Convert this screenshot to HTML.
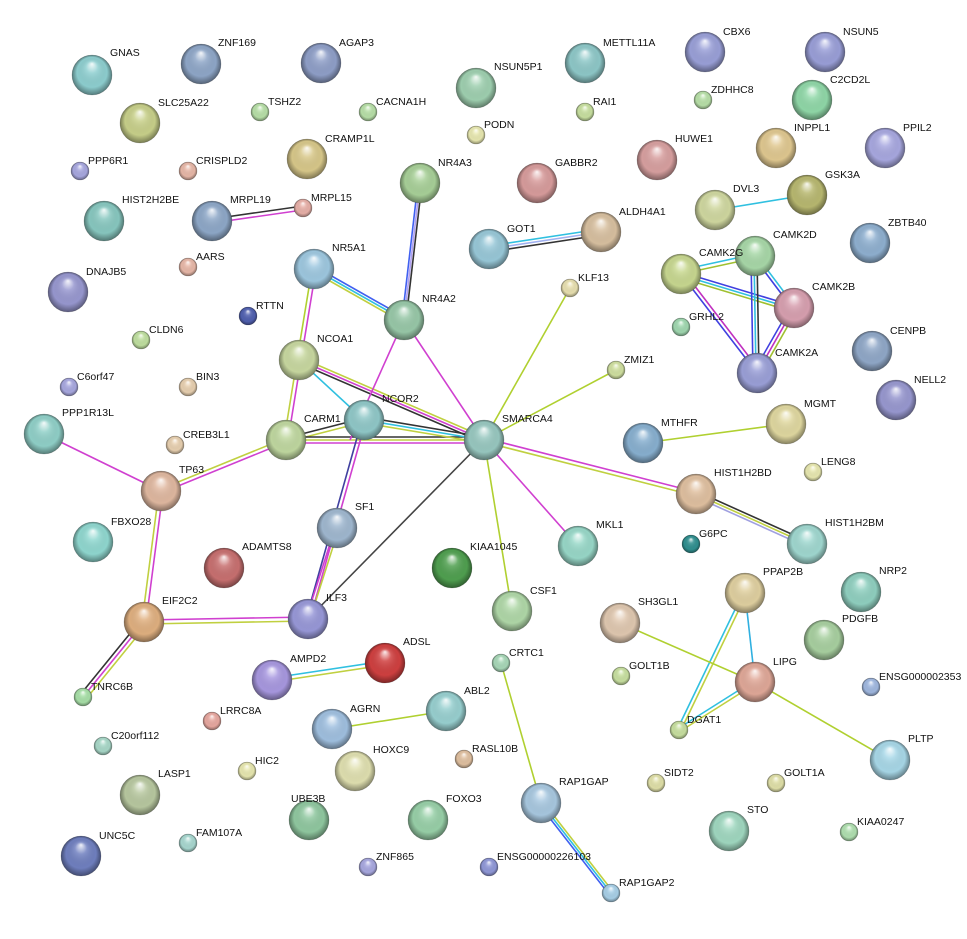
<!DOCTYPE html>
<html><head><meta charset="utf-8"><style>
html,body{margin:0;padding:0;background:#fff;}
svg{display:block;}
text{font-family:"Liberation Sans",sans-serif;font-size:10.5px;fill:#111;}
</style></head><body>
<svg width="967" height="939" viewBox="0 0 967 939" xmlns="http://www.w3.org/2000/svg">
<defs>
<radialGradient id="s" cx="0.5" cy="0.5" r="0.5" fx="0.5" fy="0.22">
<stop offset="0" stop-color="#fff" stop-opacity="0.9"/>
<stop offset="0.3" stop-color="#fff" stop-opacity="0.15"/>
<stop offset="0.75" stop-color="#000" stop-opacity="0.02"/>
<stop offset="1" stop-color="#000" stop-opacity="0.4"/>
</radialGradient>
</defs>
<g fill="none" stroke-width="1.6">
<!-- MRPL19-MRPL15 -->
<line x1="212" y1="219" x2="303" y2="206" stroke="#333"/><line x1="212" y1="223" x2="303" y2="210" stroke="#d040d0"/>
<!-- NR4A3-NR4A2 -->
<line x1="418" y1="183" x2="402" y2="320" stroke="#4060f0"/><line x1="420" y1="183" x2="404" y2="320" stroke="#b0a0f0"/><line x1="422" y1="183" x2="406" y2="320" stroke="#333"/>
<!-- GOT1-ALDH4A1 -->
<line x1="489" y1="246" x2="601" y2="229" stroke="#30c0e0"/><line x1="489" y1="249" x2="601" y2="232" stroke="#a0b0f0"/><line x1="489" y1="252" x2="601" y2="235" stroke="#333"/>
<!-- DVL3-GSK3A -->
<line x1="715" y1="210" x2="807" y2="195" stroke="#30c0e0"/>
<!-- CAMK2 cluster -->
<line x1="681" y1="272" x2="794" y2="306" stroke="#4040e0"/><line x1="681" y1="275" x2="794" y2="309" stroke="#30c0e0"/><line x1="681" y1="278" x2="794" y2="312" stroke="#a0c030"/>
<line x1="681" y1="270" x2="755" y2="254" stroke="#30c0e0"/><line x1="681" y1="274" x2="755" y2="258" stroke="#a0c030"/>
<line x1="751" y1="256" x2="753" y2="373" stroke="#4040e0"/><line x1="754" y1="256" x2="756" y2="373" stroke="#30c0e0"/><line x1="757" y1="256" x2="759" y2="373" stroke="#333"/>
<line x1="753" y1="256" x2="792" y2="308" stroke="#4040e0"/><line x1="757" y1="256" x2="796" y2="308" stroke="#30c0e0"/>
<line x1="790" y1="308" x2="753" y2="373" stroke="#4040e0"/><line x1="794" y1="308" x2="757" y2="373" stroke="#c030c0"/><line x1="798" y1="308" x2="761" y2="373" stroke="#a0c030"/>
<line x1="681" y1="274" x2="757" y2="373" stroke="#4040e0"/><line x1="684" y1="272" x2="760" y2="371" stroke="#c030c0"/>
<!-- NR5A1-NR4A2 -->
<line x1="314" y1="266" x2="404" y2="317" stroke="#4060f0"/><line x1="314" y1="269" x2="404" y2="320" stroke="#30c0e0"/><line x1="314" y1="272" x2="404" y2="323" stroke="#c0d040"/>
<!-- NR5A1-NCOA1 -->
<line x1="312" y1="269" x2="297" y2="360" stroke="#b0d030"/><line x1="316" y1="269" x2="301" y2="360" stroke="#d040d0"/>
<!-- NCOA1-CARM1 -->
<line x1="297" y1="360" x2="284" y2="440" stroke="#c0d040"/><line x1="301" y1="360" x2="288" y2="440" stroke="#d040d0"/>
<line x1="299" y1="360" x2="364" y2="420" stroke="#30c0e0"/>
<line x1="299" y1="357" x2="484" y2="437" stroke="#c0d040"/><line x1="299" y1="360" x2="484" y2="440" stroke="#d040d0"/><line x1="299" y1="363" x2="484" y2="443" stroke="#333"/>
<!-- CARM1-NCOR2 -->
<line x1="286" y1="438" x2="364" y2="418" stroke="#333"/><line x1="286" y1="442" x2="364" y2="422" stroke="#c0d040"/>
<!-- CARM1-SMARCA4 -->
<line x1="286" y1="437" x2="484" y2="437" stroke="#333"/><line x1="286" y1="440" x2="484" y2="440" stroke="#c0d040"/><line x1="286" y1="443" x2="484" y2="443" stroke="#d040d0"/>
<!-- NCOR2-SMARCA4 -->
<line x1="364" y1="417" x2="484" y2="437" stroke="#333"/><line x1="364" y1="420" x2="484" y2="440" stroke="#30c0e0"/><line x1="364" y1="423" x2="484" y2="443" stroke="#c0d040"/>
<!-- NR4A2 lines -->
<line x1="404" y1="320" x2="484" y2="440" stroke="#d040d0"/>
<line x1="404" y1="320" x2="350" y2="440" stroke="#d040d0"/>
<!-- NCOR2-SF1/ILF3 -->
<line x1="362" y1="420" x2="306" y2="619" stroke="#4040a0"/><line x1="366" y1="420" x2="310" y2="619" stroke="#d040d0"/>
<line x1="335" y1="528" x2="306" y2="619" stroke="#d040d0"/><line x1="339" y1="528" x2="310" y2="619" stroke="#c0d040"/>
<line x1="484" y1="440" x2="308" y2="619" stroke="#444"/>
<line x1="484" y1="440" x2="570" y2="288" stroke="#b0d030"/>
<line x1="484" y1="440" x2="616" y2="370" stroke="#b0d030"/>
<line x1="484" y1="440" x2="578" y2="546" stroke="#d040d0"/>
<line x1="484" y1="438" x2="696" y2="492" stroke="#d040d0"/><line x1="484" y1="442" x2="696" y2="496" stroke="#c0d040"/>
<line x1="484" y1="440" x2="512" y2="611" stroke="#b0d030"/>
<!-- CARM1-TP63 -->
<line x1="286" y1="438" x2="161" y2="489" stroke="#c0d040"/><line x1="286" y1="442" x2="161" y2="493" stroke="#d040d0"/>
<line x1="44" y1="434" x2="161" y2="491" stroke="#d040d0"/>
<line x1="159" y1="491" x2="142" y2="622" stroke="#c0d040"/><line x1="163" y1="491" x2="146" y2="622" stroke="#d040d0"/>
<line x1="144" y1="620" x2="308" y2="617" stroke="#d040d0"/><line x1="144" y1="624" x2="308" y2="621" stroke="#c0d040"/>
<line x1="141" y1="620" x2="80" y2="695" stroke="#333"/><line x1="144" y1="622" x2="83" y2="697" stroke="#d040d0"/><line x1="147" y1="624" x2="86" y2="699" stroke="#c0d040"/>
<!-- HIST1H2BD-BM -->
<line x1="696" y1="491" x2="807" y2="541" stroke="#333"/><line x1="696" y1="494" x2="807" y2="544" stroke="#c0d040"/><line x1="696" y1="497" x2="807" y2="547" stroke="#a0a0e0"/>
<line x1="643" y1="443" x2="786" y2="424" stroke="#b0d030"/>
<line x1="745" y1="593" x2="755" y2="682" stroke="#30b0e0"/>
<line x1="743" y1="593" x2="677" y2="730" stroke="#30c0e0"/><line x1="747" y1="593" x2="681" y2="730" stroke="#c0d040"/>
<line x1="755" y1="680" x2="679" y2="728" stroke="#30c0e0"/><line x1="755" y1="684" x2="679" y2="732" stroke="#c0d040"/>
<line x1="620" y1="623" x2="755" y2="682" stroke="#b0d030"/>
<line x1="755" y1="682" x2="890" y2="760" stroke="#b0d030"/>
<line x1="272" y1="678" x2="385" y2="661" stroke="#30c0e0"/><line x1="272" y1="682" x2="385" y2="665" stroke="#c0d040"/>
<line x1="332" y1="729" x2="446" y2="711" stroke="#b0d030"/>
<line x1="501" y1="663" x2="541" y2="803" stroke="#b0d030"/>
<line x1="538" y1="803" x2="608" y2="893" stroke="#4060f0"/><line x1="541" y1="803" x2="611" y2="893" stroke="#30c0e0"/><line x1="544" y1="803" x2="614" y2="893" stroke="#c0d040"/>
</g>
<g stroke="rgba(0,0,0,0.25)" stroke-width="0.6">
<!-- large nodes -->
<circle cx="92" cy="75" r="20" fill="#8ecfd0"/><circle cx="201" cy="64" r="20" fill="#8fa7c8"/><circle cx="321" cy="63" r="20" fill="#8f9fc8"/>
<circle cx="476" cy="88" r="20" fill="#9fd0b0"/><circle cx="585" cy="63" r="20" fill="#8ec8c8"/><circle cx="705" cy="52" r="20" fill="#9aa0d8"/>
<circle cx="825" cy="52" r="20" fill="#9a9fd8"/><circle cx="140" cy="123" r="20" fill="#c8d08a"/><circle cx="307" cy="159" r="20" fill="#d8c88a"/>
<circle cx="420" cy="183" r="20" fill="#a8d098"/><circle cx="537" cy="183" r="20" fill="#d89c9c"/><circle cx="657" cy="160" r="20" fill="#d8a0a0"/>
<circle cx="812" cy="100" r="20" fill="#90d8a8"/><circle cx="776" cy="148" r="20" fill="#e0c890"/><circle cx="885" cy="148" r="20" fill="#a8a8e0"/>
<circle cx="104" cy="221" r="20" fill="#88c8c0"/><circle cx="212" cy="221" r="20" fill="#8ea8c8"/><circle cx="715" cy="210" r="20" fill="#d0d8a0"/>
<circle cx="807" cy="195" r="20" fill="#b8b870"/><circle cx="489" cy="249" r="20" fill="#98c8d8"/><circle cx="601" cy="232" r="20" fill="#d8c0a0"/>
<circle cx="870" cy="243" r="20" fill="#8fb0d0"/><circle cx="68" cy="292" r="20" fill="#9898d0"/><circle cx="314" cy="269" r="20" fill="#9ec8e0"/>
<circle cx="681" cy="274" r="20" fill="#c8d890"/><circle cx="755" cy="256" r="20" fill="#a8d8a8"/><circle cx="794" cy="308" r="20" fill="#d8a0b0"/>
<circle cx="404" cy="320" r="20" fill="#98c8a8"/><circle cx="757" cy="373" r="20" fill="#9ba0d8"/><circle cx="872" cy="351" r="20" fill="#90a8c8"/>
<circle cx="299" cy="360" r="20" fill="#c8d8a0"/><circle cx="896" cy="400" r="20" fill="#9898d0"/><circle cx="44" cy="434" r="20" fill="#90d0c8"/>
<circle cx="286" cy="440" r="20" fill="#c0d8a0"/><circle cx="364" cy="420" r="20" fill="#90c8c8"/><circle cx="484" cy="440" r="20" fill="#98c8c0"/>
<circle cx="643" cy="443" r="20" fill="#88b0d0"/><circle cx="786" cy="424" r="20" fill="#e0d8a0"/><circle cx="161" cy="491" r="20" fill="#e0b8a0"/>
<circle cx="696" cy="494" r="20" fill="#e0c0a0"/><circle cx="93" cy="542" r="20" fill="#90d8d0"/><circle cx="337" cy="528" r="20" fill="#a0b8d0"/>
<circle cx="578" cy="546" r="20" fill="#98d8c8"/><circle cx="807" cy="544" r="20" fill="#a0d8d0"/><circle cx="452" cy="568" r="20" fill="#50a050"/>
<circle cx="224" cy="568" r="20" fill="#c87070"/><circle cx="861" cy="592" r="20" fill="#90d0c0"/><circle cx="144" cy="622" r="20" fill="#e0b080"/>
<circle cx="308" cy="619" r="20" fill="#9898d8"/><circle cx="512" cy="611" r="20" fill="#b0d8a8"/><circle cx="745" cy="593" r="20" fill="#e0d0a0"/>
<circle cx="620" cy="623" r="20" fill="#e0c8b0"/><circle cx="824" cy="640" r="20" fill="#a8d0a0"/><circle cx="385" cy="663" r="20" fill="#d04040"/>
<circle cx="272" cy="680" r="20" fill="#a898e0"/><circle cx="755" cy="682" r="20" fill="#e0a898"/><circle cx="332" cy="729" r="20" fill="#a0c0e0"/>
<circle cx="446" cy="711" r="20" fill="#98d0d0"/><circle cx="355" cy="771" r="20" fill="#e0e0b0"/><circle cx="890" cy="760" r="20" fill="#a8d8e8"/>
<circle cx="140" cy="795" r="20" fill="#b8c8a0"/><circle cx="309" cy="820" r="20" fill="#90c8a0"/><circle cx="428" cy="820" r="20" fill="#98d0a8"/>
<circle cx="541" cy="803" r="20" fill="#a8c8e0"/><circle cx="729" cy="831" r="20" fill="#a0d8c0"/><circle cx="81" cy="856" r="20" fill="#7080c0"/>
<!-- small nodes -->
<circle cx="260" cy="112" r="9" fill="#b8e0a8"/><circle cx="368" cy="112" r="9" fill="#b8e0a8"/><circle cx="585" cy="112" r="9" fill="#c8e0a0"/>
<circle cx="703" cy="100" r="9" fill="#b8e0a8"/><circle cx="476" cy="135" r="9" fill="#e8e8b0"/><circle cx="80" cy="171" r="9" fill="#a8a8e0"/>
<circle cx="188" cy="171" r="9" fill="#e8b8a8"/><circle cx="303" cy="208" r="9" fill="#e8b0a8"/><circle cx="188" cy="267" r="9" fill="#e8b8a8"/>
<circle cx="570" cy="288" r="9" fill="#e8e0b0"/><circle cx="248" cy="316" r="9" fill="#5060b0"/><circle cx="681" cy="327" r="9" fill="#a0d8b0"/>
<circle cx="141" cy="340" r="9" fill="#c0e0a0"/><circle cx="616" cy="370" r="9" fill="#d0e0a0"/><circle cx="69" cy="387" r="9" fill="#a8a8e0"/>
<circle cx="188" cy="387" r="9" fill="#e8d0b0"/><circle cx="175" cy="445" r="9" fill="#e8d0b0"/><circle cx="813" cy="472" r="9" fill="#e8e8b0"/>
<circle cx="691" cy="544" r="9" fill="#309090"/><circle cx="501" cy="663" r="9" fill="#a8d8b8"/><circle cx="621" cy="676" r="9" fill="#c8e0a0"/>
<circle cx="871" cy="687" r="9" fill="#a0b8e0"/><circle cx="83" cy="697" r="9" fill="#a8e0a8"/><circle cx="212" cy="721" r="9" fill="#e8a8a0"/>
<circle cx="103" cy="746" r="9" fill="#a8d8c8"/><circle cx="679" cy="730" r="9" fill="#c8e0a0"/><circle cx="464" cy="759" r="9" fill="#e0c0a0"/>
<circle cx="247" cy="771" r="9" fill="#e8e8b0"/><circle cx="656" cy="783" r="9" fill="#e0e0a8"/><circle cx="776" cy="783" r="9" fill="#e0e0a8"/>
<circle cx="849" cy="832" r="9" fill="#b0e0b0"/><circle cx="188" cy="843" r="9" fill="#a8d8d0"/><circle cx="368" cy="867" r="9" fill="#a8a8e0"/>
<circle cx="489" cy="867" r="9" fill="#9098d8"/><circle cx="611" cy="893" r="9" fill="#a8d0e8"/>
</g>
<g fill="url(#s)">
<circle cx="92" cy="75" r="20"/><circle cx="201" cy="64" r="20"/><circle cx="321" cy="63" r="20"/><circle cx="476" cy="88" r="20"/><circle cx="585" cy="63" r="20"/><circle cx="705" cy="52" r="20"/><circle cx="825" cy="52" r="20"/><circle cx="140" cy="123" r="20"/><circle cx="307" cy="159" r="20"/><circle cx="420" cy="183" r="20"/><circle cx="537" cy="183" r="20"/><circle cx="657" cy="160" r="20"/><circle cx="812" cy="100" r="20"/><circle cx="776" cy="148" r="20"/><circle cx="885" cy="148" r="20"/><circle cx="104" cy="221" r="20"/><circle cx="212" cy="221" r="20"/><circle cx="715" cy="210" r="20"/><circle cx="807" cy="195" r="20"/><circle cx="489" cy="249" r="20"/><circle cx="601" cy="232" r="20"/><circle cx="870" cy="243" r="20"/><circle cx="68" cy="292" r="20"/><circle cx="314" cy="269" r="20"/><circle cx="681" cy="274" r="20"/><circle cx="755" cy="256" r="20"/><circle cx="794" cy="308" r="20"/><circle cx="404" cy="320" r="20"/><circle cx="757" cy="373" r="20"/><circle cx="872" cy="351" r="20"/><circle cx="299" cy="360" r="20"/><circle cx="896" cy="400" r="20"/><circle cx="44" cy="434" r="20"/><circle cx="286" cy="440" r="20"/><circle cx="364" cy="420" r="20"/><circle cx="484" cy="440" r="20"/><circle cx="643" cy="443" r="20"/><circle cx="786" cy="424" r="20"/><circle cx="161" cy="491" r="20"/><circle cx="696" cy="494" r="20"/><circle cx="93" cy="542" r="20"/><circle cx="337" cy="528" r="20"/><circle cx="578" cy="546" r="20"/><circle cx="807" cy="544" r="20"/><circle cx="452" cy="568" r="20"/><circle cx="224" cy="568" r="20"/><circle cx="861" cy="592" r="20"/><circle cx="144" cy="622" r="20"/><circle cx="308" cy="619" r="20"/><circle cx="512" cy="611" r="20"/><circle cx="745" cy="593" r="20"/><circle cx="620" cy="623" r="20"/><circle cx="824" cy="640" r="20"/><circle cx="385" cy="663" r="20"/><circle cx="272" cy="680" r="20"/><circle cx="755" cy="682" r="20"/><circle cx="332" cy="729" r="20"/><circle cx="446" cy="711" r="20"/><circle cx="355" cy="771" r="20"/><circle cx="890" cy="760" r="20"/><circle cx="140" cy="795" r="20"/><circle cx="309" cy="820" r="20"/><circle cx="428" cy="820" r="20"/><circle cx="541" cy="803" r="20"/><circle cx="729" cy="831" r="20"/><circle cx="81" cy="856" r="20"/>
<circle cx="260" cy="112" r="9"/><circle cx="368" cy="112" r="9"/><circle cx="585" cy="112" r="9"/><circle cx="703" cy="100" r="9"/><circle cx="476" cy="135" r="9"/><circle cx="80" cy="171" r="9"/><circle cx="188" cy="171" r="9"/><circle cx="303" cy="208" r="9"/><circle cx="188" cy="267" r="9"/><circle cx="570" cy="288" r="9"/><circle cx="248" cy="316" r="9"/><circle cx="681" cy="327" r="9"/><circle cx="141" cy="340" r="9"/><circle cx="616" cy="370" r="9"/><circle cx="69" cy="387" r="9"/><circle cx="188" cy="387" r="9"/><circle cx="175" cy="445" r="9"/><circle cx="813" cy="472" r="9"/><circle cx="691" cy="544" r="9"/><circle cx="501" cy="663" r="9"/><circle cx="621" cy="676" r="9"/><circle cx="871" cy="687" r="9"/><circle cx="83" cy="697" r="9"/><circle cx="212" cy="721" r="9"/><circle cx="103" cy="746" r="9"/><circle cx="679" cy="730" r="9"/><circle cx="464" cy="759" r="9"/><circle cx="247" cy="771" r="9"/><circle cx="656" cy="783" r="9"/><circle cx="776" cy="783" r="9"/><circle cx="849" cy="832" r="9"/><circle cx="188" cy="843" r="9"/><circle cx="368" cy="867" r="9"/><circle cx="489" cy="867" r="9"/><circle cx="611" cy="893" r="9"/>
</g>
<g>
<text x="110" y="56">GNAS</text><text x="218" y="46">ZNF169</text><text x="339" y="46">AGAP3</text><text x="494" y="70">NSUN5P1</text>
<text x="603" y="46">METTL11A</text><text x="723" y="35">CBX6</text><text x="843" y="35">NSUN5</text><text x="158" y="106">SLC25A22</text>
<text x="325" y="142">CRAMP1L</text><text x="438" y="166">NR4A3</text><text x="555" y="166">GABBR2</text><text x="675" y="142">HUWE1</text>
<text x="830" y="83">C2CD2L</text><text x="794" y="131">INPPL1</text><text x="903" y="131">PPIL2</text><text x="122" y="203">HIST2H2BE</text>
<text x="230" y="203">MRPL19</text><text x="733" y="192">DVL3</text><text x="825" y="178">GSK3A</text><text x="507" y="232">GOT1</text>
<text x="619" y="215">ALDH4A1</text><text x="888" y="226">ZBTB40</text><text x="86" y="275">DNAJB5</text><text x="332" y="251">NR5A1</text>
<text x="699" y="256">CAMK2G</text><text x="773" y="238">CAMK2D</text><text x="812" y="290">CAMK2B</text><text x="422" y="302">NR4A2</text>
<text x="775" y="356">CAMK2A</text><text x="890" y="334">CENPB</text><text x="317" y="342">NCOA1</text><text x="914" y="383">NELL2</text>
<text x="62" y="416">PPP1R13L</text><text x="304" y="422">CARM1</text><text x="382" y="402">NCOR2</text><text x="502" y="422">SMARCA4</text>
<text x="661" y="426">MTHFR</text><text x="804" y="407">MGMT</text><text x="179" y="473">TP63</text><text x="714" y="476">HIST1H2BD</text>
<text x="111" y="525">FBXO28</text><text x="355" y="510">SF1</text><text x="596" y="528">MKL1</text><text x="825" y="526">HIST1H2BM</text>
<text x="470" y="550">KIAA1045</text><text x="242" y="550">ADAMTS8</text><text x="879" y="574">NRP2</text><text x="162" y="604">EIF2C2</text>
<text x="326" y="601">ILF3</text><text x="530" y="594">CSF1</text><text x="763" y="575">PPAP2B</text><text x="638" y="605">SH3GL1</text>
<text x="842" y="622">PDGFB</text><text x="403" y="645">ADSL</text><text x="290" y="662">AMPD2</text><text x="773" y="665">LIPG</text>
<text x="350" y="712">AGRN</text><text x="464" y="694">ABL2</text><text x="373" y="753">HOXC9</text><text x="908" y="742">PLTP</text>
<text x="158" y="777">LASP1</text><text x="291" y="802">UBE3B</text><text x="446" y="802">FOXO3</text><text x="559" y="785">RAP1GAP</text>
<text x="747" y="813">STO</text><text x="99" y="839">UNC5C</text>
<text x="268" y="105">TSHZ2</text><text x="376" y="105">CACNA1H</text><text x="593" y="105">RAI1</text><text x="711" y="93">ZDHHC8</text>
<text x="484" y="128">PODN</text><text x="88" y="164">PPP6R1</text><text x="196" y="164">CRISPLD2</text><text x="311" y="201">MRPL15</text>
<text x="196" y="260">AARS</text><text x="578" y="281">KLF13</text><text x="256" y="309">RTTN</text><text x="689" y="320">GRHL2</text>
<text x="149" y="333">CLDN6</text><text x="624" y="363">ZMIZ1</text><text x="77" y="380">C6orf47</text><text x="196" y="380">BIN3</text>
<text x="183" y="438">CREB3L1</text><text x="821" y="465">LENG8</text><text x="699" y="537">G6PC</text><text x="509" y="656">CRTC1</text>
<text x="629" y="669">GOLT1B</text><text x="879" y="680">ENSG000002353</text><text x="91" y="690">TNRC6B</text><text x="220" y="714">LRRC8A</text>
<text x="111" y="739">C20orf112</text><text x="687" y="723">DGAT1</text><text x="472" y="752">RASL10B</text><text x="255" y="764">HIC2</text>
<text x="664" y="776">SIDT2</text><text x="784" y="776">GOLT1A</text><text x="857" y="825">KIAA0247</text><text x="196" y="836">FAM107A</text>
<text x="376" y="860">ZNF865</text><text x="497" y="860">ENSG00000226103</text><text x="619" y="886">RAP1GAP2</text>
</g>
</svg>
</body></html>
